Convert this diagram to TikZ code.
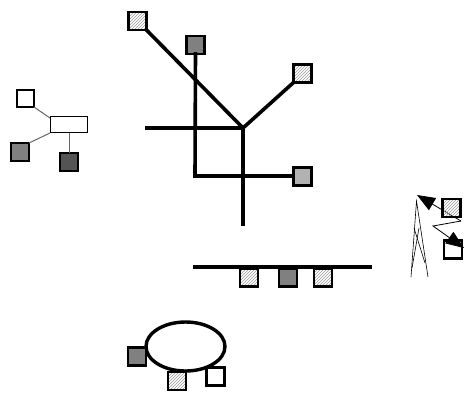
\documentclass[tikz,border=0pt]{standalone}
\usetikzlibrary{patterns,arrows.meta,calc,shapes.geometric}
\begin{document}
\begin{tikzpicture}[x=1pt,y=-1pt,
  sq/.style={draw=black,line width=2.4pt,minimum size=18pt,inner sep=0pt,outer sep=0pt},
  hatch/.style={sq,fill=gray!25,pattern=north east lines,pattern color=gray!80},
  mid/.style={sq,fill=gray!100},
  dark/.style={sq,fill=black!67},
  light/.style={sq,fill=black!30},
  white/.style={sq,fill=white},
  bar/.style={line width=3.6pt},
  thin/.style={draw=black!60,line width=1pt},
  tip/.style={line width=0.8pt,-{Triangle[length=18pt,width=14pt]}}]
\useasboundingbox (0,0) rectangle (465,392);
% left cluster
\node[white,line width=2.8pt,minimum size=17pt] (w1) at (25.5,98.5) {};
\node[draw,line width=1pt,minimum width=37pt,minimum height=16pt,inner sep=0pt] (r1) at (69,124.5) {};
\node[mid,line width=2.8pt,minimum size=18pt] (g1) at (20,152) {};
\node[dark,line width=2.8pt,minimum size=18pt] (d1) at (69,162) {};
\draw[thin] (w1.south east) -- ($(r1.north west)+(0,2)$);
\draw[thin] (g1.north east) -- (r1.south west);
\draw[thin] (r1.south) -- (d1.north);
% central network
\coordinate (A) at (145,128);
\coordinate (J) at (243,128);
\coordinate (B) at (195,176);
\coordinate (D) at (243,226);
\node[hatch] (h1) at (137.5,21) {};
\node[mid] (g2) at (195.5,45) {};
\node[hatch] (h2) at (302.5,73.5) {};
\node[light] (l1) at (302.5,176.5) {};
\draw[bar] (h1.south east) -- (J);
\draw[bar] (J) -- (h2.south west);
\draw[bar] (A) -- (J) -- (D);
\draw[bar] ($(g2.south)+(0,-2)$) -- (B) -- (B -| l1.west);
% bus
\coordinate (L) at (193,267);
\coordinate (R) at (372,267);
\draw[bar] (L) -- (R);
\node[hatch,anchor=north] (b1) at (249,268.5) {};
\node[mid,anchor=north] (b2) at (288,268.5) {};
\node[hatch,anchor=north] (b3) at (323,268.5) {};
% ring
\node[draw,line width=3.4pt,ellipse,minimum width=79pt,minimum height=49pt,inner sep=0pt] (e1) at (185.5,346.5) {};
\node[mid] (e2) at (137,356.5) {};
\node[hatch] (e3) at (177,381) {};
\node[white] (e4) at (215.5,376.5) {};
% wireless
\coordinate (Z1) at (461,221);
\coordinate (Z2) at (433,226);
\coordinate (TA) at (417,195);
\coordinate (TB) at (464,248);
\draw[tip] (Z1) -- (TA);
\node[hatch] (t1) at (451.5,208) {};
\node[white] (t2) at (453,249.5) {};
\draw[tip] (Z1) -- (Z2) -- (TB);
% tower
\coordinate (P) at (416.5,201);
\draw[line width=0.6pt] (411,277) -- (P) -- (428,277);
\draw[line width=0.6pt] (414,228) -- (425,263);
\draw[line width=0.6pt] (419,228) -- (412,268);
\end{tikzpicture}
\end{document}
